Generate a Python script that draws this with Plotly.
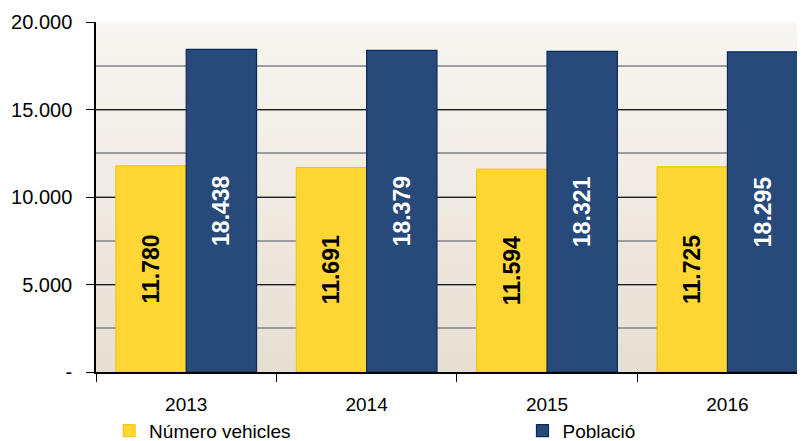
import base64
import plotly.graph_objects as go

years = ["2013", "2014", "2015", "2016"]
vehicles = [11780, 11691, 11594, 11725]
population = [18438, 18379, 18321, 18295]
y_ticks = [0, 5000, 10000, 15000, 20000]
y_tick_labels = ["-", "5.000", "10.000", "15.000", "20.000"]

FONT = "Liberation Sans, Arial, sans-serif"

# soft beige gradient behind the plot area
bg_svg = (
    '<svg xmlns="http://www.w3.org/2000/svg" width="10" height="100" preserveAspectRatio="none">'
    '<defs><linearGradient id="g" x1="0" y1="0" x2="0" y2="1">'
    '<stop offset="0" stop-color="#f8f6f2"/><stop offset="1" stop-color="#e7ded2"/>'
    '</linearGradient></defs><rect width="10" height="100" fill="url(#g)"/></svg>'
)
bg_uri = "data:image/svg+xml;base64," + base64.b64encode(bg_svg.encode()).decode()

fig = go.Figure()
fig.add_trace(go.Bar(
    x=years, y=vehicles, name="Número vehicles", legend="legend",
    marker=dict(color="#ffd633", line=dict(color="#f2c200", width=1)),
    texttemplate="%{y:,}", textposition="inside", insidetextanchor="middle",
    textangle=-90, textfont=dict(family=FONT, size=23, color="black", weight="bold"),
))
fig.add_trace(go.Bar(
    x=years, y=population, name="Població", legend="legend2",
    marker=dict(color="#284a7b", line=dict(color="#0b2b59", width=1.2)),
    texttemplate="%{y:,}", textposition="inside", insidetextanchor="middle",
    textangle=-90, textfont=dict(family=FONT, size=23, color="white", weight="bold"),
))

legend_style = dict(orientation="h", yanchor="middle", xanchor="left",
                    font=dict(size=19), bgcolor="rgba(0,0,0,0)", itemwidth=30)

# page body has an 8px margin, so the figure is 8px smaller than the window
fig.update_layout(
    width=797, height=433,
    margin=dict(l=88, r=0, t=14, b=69, autoexpand=False),
    paper_bgcolor="white", plot_bgcolor="rgba(0,0,0,0)",
    separators=",.",
    barmode="group", bargap=0.22, bargroupgap=0,
    font=dict(family=FONT, size=19, color="black"),
    showlegend=True,
    legend=dict(x=0.0185, y=-0.168, **legend_style),
    legend2=dict(x=0.6015, y=-0.168, **legend_style),
    images=[dict(source=bg_uri, xref="paper", yref="paper", x=0, y=1,
                 sizex=1, sizey=1, sizing="stretch", layer="below")],
)
fig.update_xaxes(
    range=[-0.5, 3.43], tickson="boundaries", ticks="outside", ticklen=8,
    tickcolor="black", showline=True, linecolor="black", linewidth=1.5,
    showgrid=False, tickfont=dict(size=19), ticklabelstandoff=14,
)
fig.update_yaxes(
    range=[0, 20000], tickvals=y_ticks, ticktext=y_tick_labels,
    ticks="outside", ticklen=8, tickcolor="black", ticklabelstandoff=10,
    showline=True, linecolor="black", linewidth=1.5,
    showgrid=True, gridcolor="#1a1a1a", gridwidth=1, zeroline=False,
    minor=dict(dtick=2500, showgrid=True, gridcolor="#9c9c9c", gridwidth=1.5, ticks=""),
    tickfont=dict(size=20),
)

fig.write_html("out.html")
